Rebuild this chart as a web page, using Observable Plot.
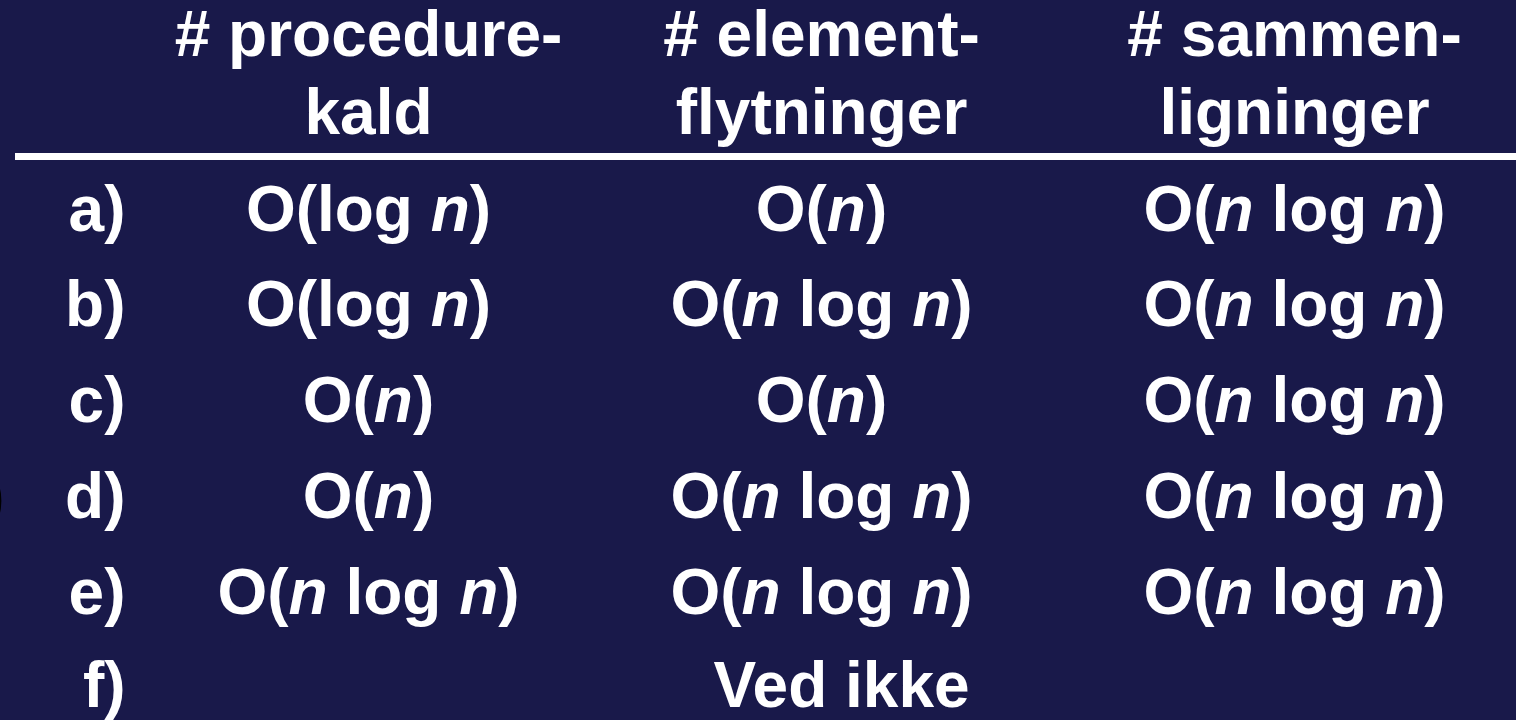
<!DOCTYPE html>
<html>
<head>
<meta charset="utf-8">
<script src="https://cdn.jsdelivr.net/npm/d3@7"></script>
<script src="https://cdn.jsdelivr.net/npm/@observablehq/plot@0.6"></script>
<style>
  html, body { margin: 0; padding: 0; background: #19194a; overflow: hidden; }
</style>
</head>
<body>
<div id="chart"></div>
<script>
const rowLabels = ["a)", "b)", "c)", "d)", "e)", "f)"];
const columnHeaders = ["# procedure-\nkald", "# element-\nflytninger", "# sammen-\nligninger"];
const procedureKald = ["O(log n)", "O(log n)", "O(n)", "O(n)", "O(n log n)", ""];
const elementFlytninger = ["O(n)", "O(n log n)", "O(n)", "O(n log n)", "O(n log n)", ""];
const sammenligninger = ["O(n log n)", "O(n log n)", "O(n log n)", "O(n log n)", "O(n log n)", ""];
const unknownAnswer = ["Ved ikke"];
const strayMark = [")"];

const columns = [procedureKald, elementFlytninger, sammenligninger];
const cells = columns
  .flatMap((vals, c) => vals.map((t, r) => ({row: r, col: c + 1, text: t})))
  .filter(d => d.text);
const headerCells = columnHeaders.map((t, c) => ({row: -1, col: c + 1, text: t}));
const labelCells = rowLabels.map((t, r) => ({row: r, col: 0, text: t}));

const font = {
  fontFamily: "'Liberation Sans', Arial, Helvetica, sans-serif",
  fontSize: 64,
  fontWeight: "bold",
  lineAnchor: "bottom"
};

const chart = Plot.plot({
  width: 1516,
  height: 720,
  margin: 0,
  style: {background: "#19194a", color: "white", overflow: "visible"},
  x: {type: "linear", domain: [0, 1, 2, 3], range: [125, 368, 821, 1294], axis: null},
  y: {type: "linear", domain: [-1, 0, 4, 5], range: [133, 230, 613, 706], axis: null},
  marks: [
    Plot.ruleY([-1], {dy: 23, stroke: "white", strokeWidth: 7, insetLeft: 15}),
    Plot.text(headerCells, {x: "col", y: "row", text: "text", fill: "white", lineHeight: 78 / 64, ...font}),
    Plot.text(labelCells, {x: "col", y: "row", text: "text", textAnchor: "end", fill: "white", ...font}),
    Plot.text(cells, {x: "col", y: "row", text: "text", fill: "white", ...font}),
    Plot.text(unknownAnswer, {x: () => 2, y: () => 5, text: d => d, dx: 20, fill: "white", ...font}),
    Plot.text(strayMark, {frameAnchor: "left", y: () => 3, text: d => d, textAnchor: "end", dx: 4, fill: "black", ...font})
  ]
});

// italicise the variable n in complexity expressions
chart.querySelectorAll("text").forEach(t => {
  if (t.children.length) return;
  const s = t.textContent;
  if (!/^O\(/.test(s)) return;
  t.textContent = "";
  s.split(/(\bn\b)/).forEach(part => {
    if (!part) return;
    const ts = document.createElementNS("http://www.w3.org/2000/svg", "tspan");
    if (part === "n") ts.setAttribute("font-style", "italic");
    ts.textContent = part;
    t.appendChild(ts);
  });
});

document.getElementById("chart").appendChild(chart);
</script>
</body>
</html>
